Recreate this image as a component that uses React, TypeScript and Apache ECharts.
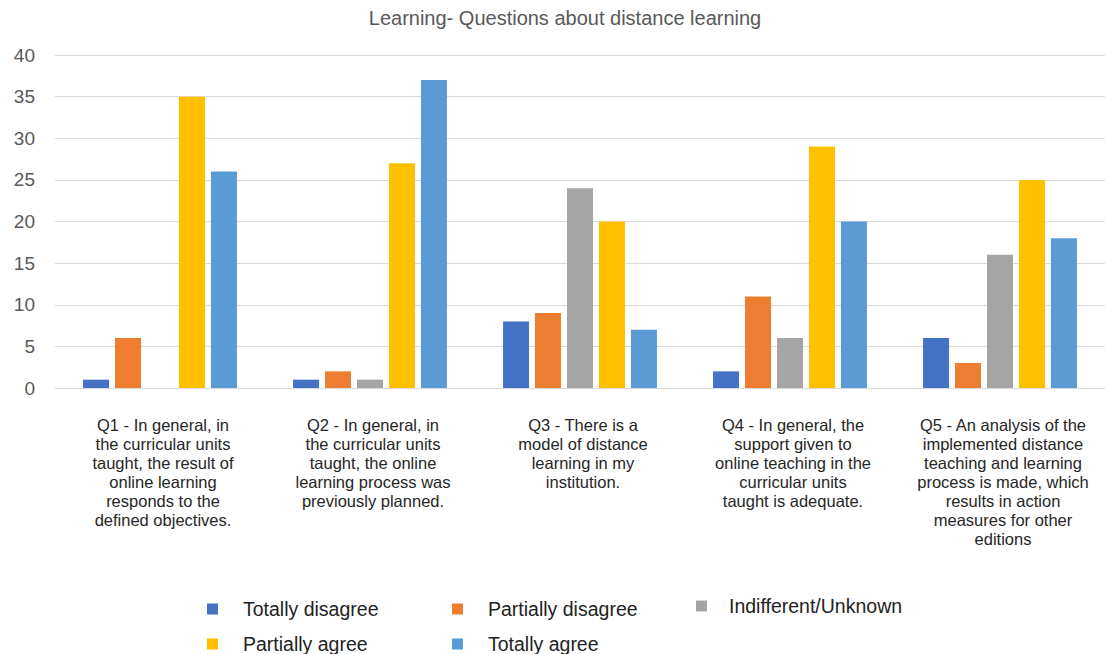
import React, { useEffect, useRef } from "react";
import * as echarts from "echarts";

const categories = [
  "Q1 - In general, in\nthe curricular units\ntaught, the result of\nonline learning\nresponds to the\ndefined objectives.",
  "Q2 - In general, in\nthe curricular units\ntaught, the online\nlearning process was\npreviously planned.",
  "Q3 - There is a\nmodel of distance\nlearning in my\ninstitution.",
  "Q4 - In general, the\nsupport given to\nonline teaching in the\ncurricular units\ntaught is adequate.",
  "Q5 - An analysis of the\nimplemented distance\nteaching and learning\nprocess is made, which\nresults in action\nmeasures for other\neditions",
];

const seriesNames = [
  "Totally disagree",
  "Partially disagree",
  "Indifferent/Unknown",
  "Partially agree",
  "Totally agree",
];

const totallyDisagree = [1, 1, 8, 2, 6];
const partiallyDisagree = [6, 2, 9, 11, 3];
const indifferent = [0, 1, 24, 6, 16];
const partiallyAgree = [35, 27, 20, 29, 25];
const totallyAgree = [26, 37, 7, 20, 18];

const colors = ["#4472C4", "#ED7D31", "#A5A5A5", "#FFC000", "#5B9BD5"];

const legendPos = [
  { left: 207, top: 598, pad: 20 },
  { left: 452, top: 598, pad: 20 },
  { left: 696, top: 595, pad: 17 },
  { left: 207, top: 633, pad: 20 },
  { left: 452, top: 633, pad: 20 },
];

export default function App() {
  const ref = useRef<HTMLDivElement>(null);
  useEffect(() => {
    if (!ref.current) return;
    const chart = echarts.init(ref.current, null, { renderer: "svg" });
    const values = [totallyDisagree, partiallyDisagree, indifferent, partiallyAgree, totallyAgree];
    const font = "Liberation Sans, Arial, sans-serif";
    chart.setOption({
      animation: false,
      color: colors,
      textStyle: { fontFamily: font },
      title: {
        text: "Learning- Questions about distance learning",
        left: 565,
        textAlign: "center",
        top: 8,
        padding: 0,
        textStyle: { fontSize: 20, fontWeight: "normal", color: "#595959", fontFamily: font },
      },
      grid: { left: 55, right: 0, top: 55, bottom: 266, containLabel: false },
      legend: seriesNames.map((name, i) => ({
        left: legendPos[i].left,
        top: legendPos[i].top,
        padding: 0,
        itemWidth: 11,
        itemHeight: 11,
        itemGap: 0,
        icon: "rect",
        data: [name],
        textStyle: {
          fontSize: 19.5,
          lineHeight: 22,
          color: "#222",
          fontFamily: font,
          padding: [0, 0, 0, legendPos[i].pad],
        },
      })),
      xAxis: {
        type: "category",
        data: categories,
        axisLine: { show: true, lineStyle: { color: "#d9d9d9" } },
        axisTick: { show: false },
        axisLabel: {
          interval: 0,
          margin: 27,
          fontSize: 16.5,
          lineHeight: 19,
          color: "#262626",
          align: "center",
          verticalAlign: "top",
          fontFamily: font,
          padding: [0, 0, 0, 6],
        },
      },
      yAxis: {
        type: "value",
        min: 0,
        max: 40,
        interval: 5,
        axisLine: { show: false },
        axisTick: { show: false },
        splitLine: { lineStyle: { color: "#d9d9d9" } },
        axisLabel: { fontSize: 19, color: "#595959", margin: 20, fontFamily: font },
      },
      series: seriesNames.map((name, i) => ({
        name,
        type: "bar",
        data: values[i],
        barWidth: 26,
        barGap: "23%",
        itemStyle: { color: colors[i] },
      })),
    });
    return () => chart.dispose();
  }, []);
  return (
    <div
      ref={ref}
      style={{ position: "fixed", left: 0, top: 0, width: 1105, height: 654, background: "#fff" }}
    />
  );
}
